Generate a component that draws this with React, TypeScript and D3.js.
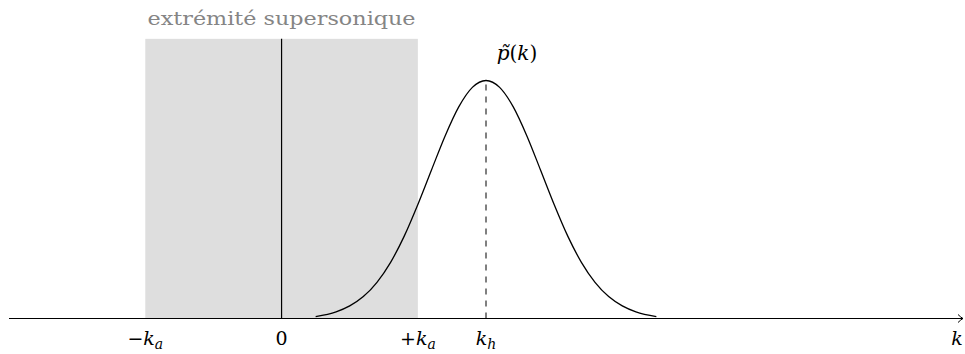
import React, { useEffect, useRef } from "react";
import * as d3 from "d3";

// k values in units of k_a, p values relative to the peak
const curveK = [
  0.25, 0.4, 0.5, 0.6, 0.7, 0.8, 0.9, 1.0, 1.1, 1.2, 1.3, 1.4, 1.5,
  1.6, 1.7, 1.8, 1.9, 2.0, 2.1, 2.2, 2.3, 2.4, 2.5, 2.6, 2.75,
];
const curveP = [
  0.008, 0.028, 0.053, 0.092, 0.152, 0.236, 0.346, 0.479, 0.624, 0.767, 0.889, 0.971, 1.0,
  0.971, 0.889, 0.767, 0.624, 0.479, 0.346, 0.236, 0.152, 0.092, 0.053, 0.028, 0.008,
];

const kHat = 1.5; // k_h
const zoneK = [-1, 1]; // supersonic zone -k_a .. +k_a
const zoneTop = 1.175;
const tickK = [-1, 0, 1, 1.5];
const tickLabels = [
  ["−", "k", "a"],
  ["", "0", ""],
  ["+", "k", "a"],
  ["", "k", "h"],
];

const W = 965;
const H = 354;

const App = () => {
  const svgRef = useRef<SVGSVGElement>(null);

  useEffect(() => {
    const svg = d3.select(svgRef.current);
    svg.selectAll("*").remove();

    const x = d3.scaleLinear().domain([-2, 5]).range([9, 963]);
    const y = d3.scaleLinear().domain([0, 1]).range([318.5, 80.5]);

    const font = "DejaVu Serif";

    // gray zone
    svg
      .append("rect")
      .attr("x", x(zoneK[0]))
      .attr("y", y(zoneTop))
      .attr("width", x(zoneK[1]) - x(zoneK[0]))
      .attr("height", y(0) - y(zoneTop))
      .attr("fill", "#dedede");

    svg
      .append("text")
      .attr("x", (x(zoneK[0]) + x(zoneK[1])) / 2)
      .attr("y", 25)
      .attr("text-anchor", "middle")
      .style("font-family", font)
      .attr("font-size", 19)
      .attr("fill", "#858585")
      .attr("textLength", 268)
      .attr("lengthAdjust", "spacingAndGlyphs")
      .text("extrémité supersonique");

    // k = 0 line
    svg
      .append("line")
      .attr("x1", x(0))
      .attr("x2", x(0))
      .attr("y1", y(zoneTop))
      .attr("y2", y(0))
      .attr("stroke", "#000")
      .attr("stroke-width", 1.2);

    // axis with arrow
    const x0 = x.range()[0];
    const x1 = x.range()[1];
    svg
      .append("line")
      .attr("x1", x0)
      .attr("x2", x1)
      .attr("y1", y(0))
      .attr("y2", y(0))
      .attr("stroke", "#000")
      .attr("stroke-width", 1);
    svg
      .append("path")
      .attr("d", `M${x1 - 5},${y(0) - 4} Q${x1 - 2},${y(0) - 1} ${x1},${y(0)} Q${x1 - 2},${y(0) + 1} ${x1 - 5},${y(0) + 4}`)
      .attr("fill", "none")
      .attr("stroke", "#000")
      .attr("stroke-width", 1);

    // dashed line at k_h
    svg
      .append("line")
      .attr("x1", x(kHat))
      .attr("x2", x(kHat))
      .attr("y1", y(0))
      .attr("y2", y(1))
      .attr("stroke", "#000")
      .attr("stroke-width", 1)
      .attr("stroke-dasharray", "6 6");

    // spectrum curve
    const pts = curveK.map((k, i) => [k, curveP[i]] as [number, number]);
    const line = d3
      .line<[number, number]>()
      .x((d) => x(d[0]))
      .y((d) => y(d[1]))
      .curve(d3.curveMonotoneX);
    svg
      .append("path")
      .attr("d", line(pts))
      .attr("fill", "none")
      .attr("stroke", "#000")
      .attr("stroke-width", 1.3);

    // tick labels
    tickK.forEach((k, i) => {
      const [pre, main, sub] = tickLabels[i];
      const t = svg
        .append("text")
        .attr("x", x(k))
        .attr("y", 345)
        .attr("text-anchor", "middle")
        .style("font-family", font)
        .attr("font-size", 19)
        .attr("fill", "#000");
      if (pre) t.append("tspan").text(pre);
      t.append("tspan")
        .attr("font-style", main === "0" ? "normal" : "italic")
        .text(main);
      if (sub)
        t.append("tspan")
          .attr("font-style", "italic")
          .attr("font-size", 14)
          .attr("dy", 4)
          .text(sub);
    });

    // axis label k
    svg
      .append("text")
      .attr("x", 957)
      .attr("y", 345)
      .attr("text-anchor", "middle")
      .style("font-family", font)
      .attr("font-style", "italic")
      .attr("font-size", 19)
      .text("k");

    // p~(k) label
    const pl = svg
      .append("text")
      .attr("x", 517)
      .attr("y", 60)
      .attr("text-anchor", "middle")
      .style("font-family", font)
      .attr("font-size", 20);
    pl.append("tspan").attr("font-style", "italic").text("p\u0303");
    pl.append("tspan").text("(");
    pl.append("tspan").attr("font-style", "italic").text("k");
    pl.append("tspan").text(")");
  }, []);

  return (
    <svg
      ref={svgRef}
      width={W}
      height={H}
      style={{ position: "absolute", left: 0, top: 0, background: "#fff" }}
    ></svg>
  );
};

export default App;
